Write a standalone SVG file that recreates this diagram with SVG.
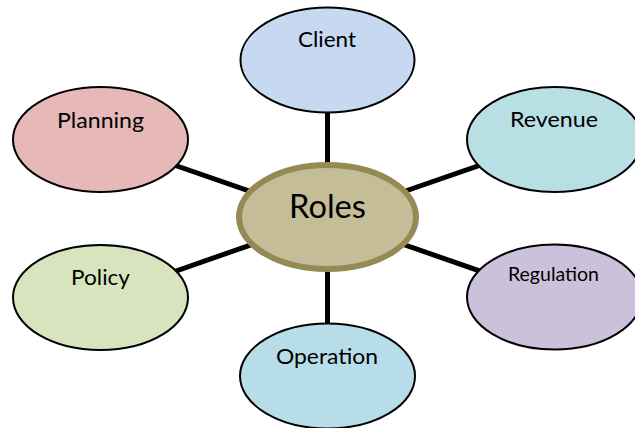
<svg xmlns="http://www.w3.org/2000/svg" width="635" height="428" viewBox="0 0 635 428">
  <style>
    .node { stroke: #000; stroke-width: 2; }
    .link { stroke: #000; stroke-width: 5; fill: none; }
    .label { font-family: Lato, "Open Sans", "Liberation Sans", sans-serif; font-size: 22px; fill: #000; text-anchor: middle; }
    .hub { fill: #c4bd97; stroke: #948a54; stroke-width: 6; }
    .hub-label { font-size: 32px; }
  </style>
  <rect width="635" height="428" fill="#fff"/>

  <!-- spokes from the hub to each role -->
  <g id="connectors">
    <line class="link" x1="327.5" y1="218" x2="327.5" y2="60"/>
    <line class="link" x1="327.5" y1="218" x2="100.5" y2="139.5"/>
    <line class="link" x1="327.5" y1="218" x2="554.5" y2="139.5"/>
    <line class="link" x1="327.5" y1="218" x2="100.5" y2="297.5"/>
    <line class="link" x1="327.5" y1="218" x2="554.5" y2="297"/>
    <line class="link" x1="327.5" y1="218" x2="327.5" y2="376"/>
  </g>

  <g id="client">
    <ellipse class="node" cx="327.5" cy="60" rx="87" ry="52.5" fill="#c6d9f1"/>
    <text class="label" x="327" y="47" textLength="58" lengthAdjust="spacingAndGlyphs">Client</text>
  </g>

  <g id="planning">
    <ellipse class="node" cx="100.5" cy="139.5" rx="87.5" ry="52.5" fill="#e6b9b8"/>
    <text class="label" x="100.5" y="128" textLength="87" lengthAdjust="spacingAndGlyphs">Planning</text>
  </g>

  <g id="revenue">
    <ellipse class="node" cx="554.5" cy="139.5" rx="87.5" ry="52.5" fill="#b8dfe3"/>
    <text class="label" x="554" y="127" textLength="88" lengthAdjust="spacingAndGlyphs">Revenue</text>
  </g>

  <g id="policy">
    <ellipse class="node" cx="100.5" cy="297.5" rx="87.5" ry="52.5" fill="#d7e4bd"/>
    <text class="label" x="100.5" y="285" textLength="59" lengthAdjust="spacingAndGlyphs">Policy</text>
  </g>

  <g id="regulation">
    <ellipse class="node" cx="554.5" cy="297" rx="87.5" ry="52.5" fill="#ccc1da"/>
    <text class="label" x="553.5" y="281" font-size="19" textLength="91" lengthAdjust="spacingAndGlyphs" style="font-size:19px">Regulation</text>
  </g>

  <g id="operation">
    <ellipse class="node" cx="327.5" cy="376" rx="87.5" ry="52.5" fill="#b7dee8"/>
    <text class="label" x="327" y="364" textLength="102" lengthAdjust="spacingAndGlyphs">Operation</text>
  </g>

  <g id="roles">
    <ellipse class="hub" cx="327.5" cy="217" rx="88.5" ry="52"/>
    <text class="label hub-label" x="327.5" y="218" textLength="77" lengthAdjust="spacingAndGlyphs">Roles</text>
  </g>
</svg>
